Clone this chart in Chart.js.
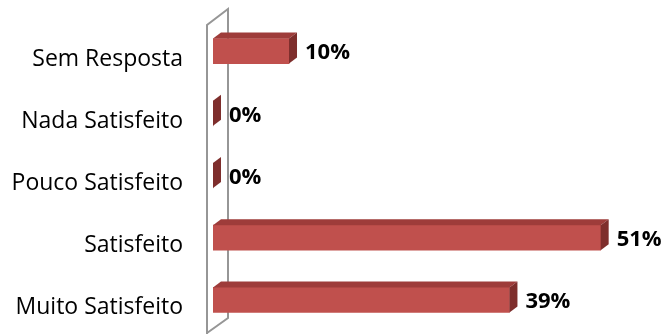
<!DOCTYPE html>
<html>
<head>
<meta charset="utf-8">
<script src="https://cdn.jsdelivr.net/npm/chart.js@4"></script>
<style>
  html, body { margin: 0; padding: 0; background: #fff; }
  #wrap { width: 663px; height: 334px; }
</style>
</head>
<body>
<div id="wrap"><canvas id="chart" width="663" height="334"></canvas></div>
<script>
// categorias e valores (%)
const categorias = ['Sem Resposta', 'Nada Satisfeito', 'Pouco Satisfeito', 'Satisfeito', 'Muito Satisfeito'];
const valores = [10, 0, 0, 51, 39];
const rotulos = ['10%', '0%', '0%', '51%', '39%'];

const DX = 8, DY = 6; // profundidade 3D

// parede lateral (eixo) desenhada antes das barras
const parede = {
  id: 'parede',
  beforeDatasetsDraw(chart) {
    const ctx = chart.ctx;
    const a = chart.chartArea;
    const xf = a.left - 6, xb = a.left + 15;
    ctx.save();
    ctx.strokeStyle = '#969696';
    ctx.lineWidth = 2;
    ctx.beginPath();
    ctx.moveTo(xf, 334);
    ctx.lineTo(xf, a.top + 5);
    ctx.lineTo(xb, a.top - 11);
    ctx.lineTo(xb, a.bottom - 13);
    ctx.lineTo(xf, a.bottom + 2);
    ctx.stroke();
    ctx.restore();
  }
};

// faces de cima e da direita + rótulos
const barras3d = {
  id: 'barras3d',
  afterDatasetsDraw(chart) {
    const ctx = chart.ctx;
    const meta = chart.getDatasetMeta(0);
    ctx.save();
    meta.data.forEach((bar, i) => {
      const p = bar.getProps(['x', 'y', 'base', 'height'], true);
      const top = p.y - p.height / 2, bot = p.y + p.height / 2;
      const x0 = p.base, x1 = p.x;
      // topo
      ctx.fillStyle = '#9E3C3A';
      ctx.beginPath();
      ctx.moveTo(x0, top);
      ctx.lineTo(x0 + DX, top - DY);
      ctx.lineTo(x1 + DX, top - DY);
      ctx.lineTo(x1, top);
      ctx.closePath();
      ctx.fill();
      // lado direito
      ctx.fillStyle = '#7E2E2C';
      ctx.beginPath();
      ctx.moveTo(x1, top);
      ctx.lineTo(x1 + DX, top - DY);
      ctx.lineTo(x1 + DX, bot - DY);
      ctx.lineTo(x1, bot);
      ctx.closePath();
      ctx.fill();
      // rótulo
      ctx.fillStyle = '#000';
      ctx.font = 'bold 22px "Open Sans"';
      ctx.textBaseline = 'middle';
      ctx.textAlign = 'left';
      ctx.fillText(rotulos[i], x1 + 16, p.y + 2);
    });
    ctx.restore();
  }
};

new Chart(document.getElementById('chart'), {
  type: 'bar',
  data: {
    labels: categorias,
    datasets: [{
      data: valores,
      backgroundColor: '#C0504D',
      borderWidth: 0,
      barThickness: 25
    }]
  },
  options: {
    indexAxis: 'y',
    responsive: false,
    animation: false,
    layout: { padding: { top: 20, bottom: 3, left: 0, right: 0 } },
    plugins: { legend: { display: false }, tooltip: { enabled: false } },
    scales: {
      x: { display: false, min: 0, max: 59.2 },
      y: {
        grid: { display: false, drawTicks: false },
        border: { display: false },
        afterFit(scale) {
          scale.width = 213;
          scale.paddingTop = 0;
          scale.paddingBottom = 0;
        },
        ticks: {
          padding: 30,
          labelOffset: 8,
          color: '#000',
          font: { family: 'Open Sans', size: 23 }
        }
      }
    }
  },
  plugins: [parede, barras3d]
});
</script>
</body>
</html>
